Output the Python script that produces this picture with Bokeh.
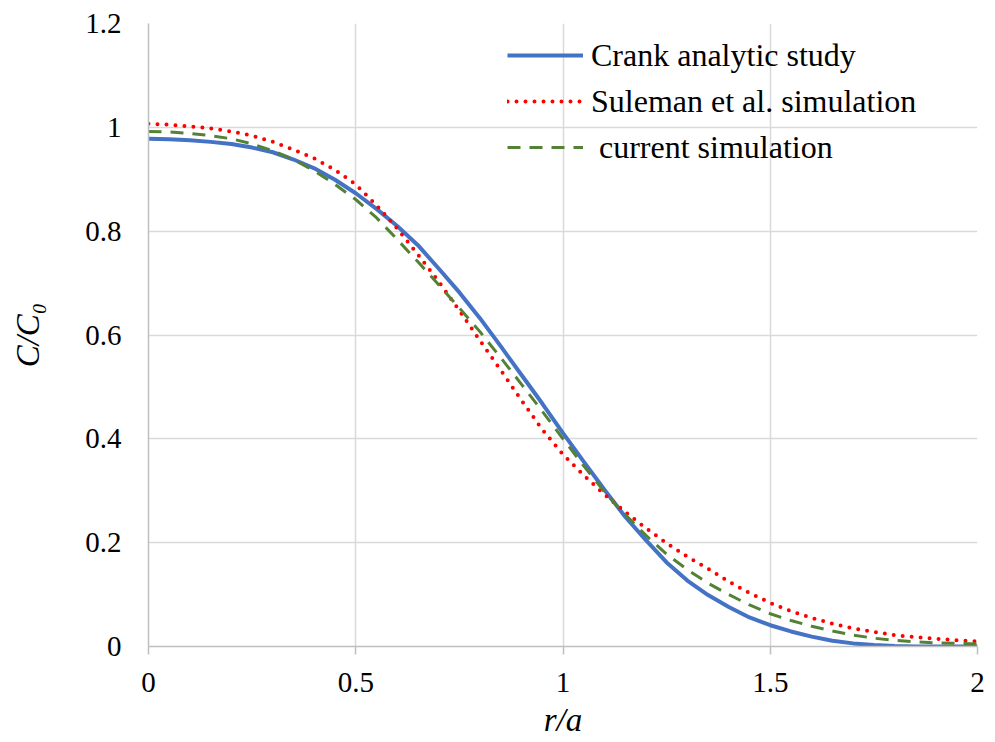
from bokeh.plotting import figure
from bokeh.models import FixedTicker, NumeralTickFormatter, Legend, LegendItem, Range1d, Title
from bokeh.embed import file_html
from bokeh.resources import INLINE

r = [0.00, 0.05, 0.10, 0.15, 0.20, 0.25, 0.30, 0.35, 0.40, 0.45,
     0.50, 0.55, 0.60, 0.65, 0.70, 0.75, 0.80, 0.85, 0.90, 0.95,
     1.00, 1.05, 1.10, 1.15, 1.20, 1.25, 1.30, 1.35, 1.40, 1.45,
     1.50, 1.55, 1.60, 1.65, 1.70, 1.75, 1.80, 1.85, 1.90, 1.95, 2.00]
crank = [0.978, 0.977, 0.975, 0.972, 0.968, 0.961, 0.952, 0.938, 0.921, 0.899,
         0.873, 0.843, 0.810, 0.773, 0.728, 0.682, 0.632, 0.578, 0.523, 0.468,
         0.411, 0.356, 0.302, 0.250, 0.205, 0.162, 0.127, 0.099, 0.076, 0.056,
         0.041, 0.029, 0.019, 0.011, 0.006, 0.003, 0.001, 0.000, 0.000, 0.000, 0.000]
suleman = [1.007, 1.005, 1.002, 0.998, 0.992, 0.984, 0.972, 0.957, 0.940, 0.918,
           0.890, 0.850, 0.805, 0.755, 0.703, 0.647, 0.589, 0.532, 0.474, 0.418,
           0.370, 0.330, 0.293, 0.259, 0.228, 0.199, 0.173, 0.150, 0.125, 0.103,
           0.084, 0.068, 0.055, 0.044, 0.035, 0.028, 0.022, 0.018, 0.015, 0.012, 0.010]
current = [0.992, 0.991, 0.988, 0.984, 0.978, 0.968, 0.955, 0.938, 0.916, 0.890,
           0.861, 0.826, 0.784, 0.741, 0.697, 0.652, 0.606, 0.556, 0.505, 0.453,
           0.400, 0.348, 0.298, 0.254, 0.214, 0.178, 0.148, 0.122, 0.100, 0.080,
           0.063, 0.050, 0.039, 0.030, 0.022, 0.016, 0.012, 0.009, 0.007, 0.006, 0.005]

x_ticks = [0, 0.5, 1, 1.5, 2]
y_ticks = [0, 0.2, 0.4, 0.6, 0.8, 1, 1.2]
x_title = "r/a"
y_title = "C/C\u2080"

FONT = "Liberation Serif"

p = figure(width=995, height=742, output_backend="svg", toolbar_location=None,
           x_range=Range1d(0, 2), y_range=Range1d(0, 1.2),
           min_border_left=148, min_border_right=18, min_border_top=23, min_border_bottom=96)
p.outline_line_color = None

l1 = p.line(r, crank, line_color="#4472C4", line_width=4)
l2 = p.line(r, suleman, line_color="#FF0000", line_width=4, line_dash="0 9", line_cap="round")
l3 = p.line(r, current, line_color="#548235", line_width=3, line_dash="13 9")

for ax in (p.xaxis[0], p.yaxis[0]):
    ax.major_label_text_font = FONT
    ax.major_label_text_font_size = "29px"
    ax.major_label_text_color = "#000000"
    ax.axis_label_text_font = FONT
    ax.axis_label_text_font_size = "33px"
    ax.axis_label_text_font_style = "italic"
    ax.axis_label_text_color = "#000000"
    ax.axis_line_color = "#bfbfbf"
    ax.axis_line_width = 1.5
    ax.major_tick_line_color = "#bfbfbf"
    ax.major_tick_line_width = 1.5
    ax.minor_tick_line_color = None
    ax.formatter = NumeralTickFormatter(format="0.[0]")

p.xaxis[0].ticker = FixedTicker(ticks=x_ticks)
p.yaxis[0].ticker = FixedTicker(ticks=y_ticks)
p.xaxis[0].major_tick_out = 8
p.xaxis[0].major_tick_in = 0
p.yaxis[0].major_tick_out = 0
p.yaxis[0].major_tick_in = 0
p.xaxis[0].major_label_standoff = 18
p.yaxis[0].major_label_standoff = 27
p.yaxis[0].axis_label = y_title
p.yaxis[0].axis_label_standoff = 36

# x-axis title as a centred title below the axis
xt = Title(text=x_title, align="center", text_font=FONT, text_font_size="33px",
           text_font_style="italic", text_color="#000000", standoff=10, offset=0)
p.add_layout(xt, "below")

p.xgrid.grid_line_color = "#d9d9d9"
p.ygrid.grid_line_color = "#d9d9d9"
p.xgrid.grid_line_width = 1.5
p.ygrid.grid_line_width = 1.5
p.xgrid.ticker = FixedTicker(ticks=x_ticks)
p.ygrid.ticker = FixedTicker(ticks=y_ticks)

legend = Legend(items=[
    LegendItem(label="Crank analytic study", renderers=[l1]),
    LegendItem(label="Suleman et al. simulation", renderers=[l2]),
    LegendItem(label=" current simulation", renderers=[l3]),
], location=(359, 479))
legend.background_fill_alpha = 0
legend.border_line_color = None
legend.label_text_font = FONT
legend.label_text_font_size = "32px"
legend.label_text_color = "#000000"
legend.glyph_width = 76
legend.glyph_height = 40
legend.label_height = 40
legend.spacing = 6
legend.padding = 0
legend.margin = 0
legend.label_standoff = 8
p.add_layout(legend)

open("out.html", "w").write(file_html(p, INLINE))
